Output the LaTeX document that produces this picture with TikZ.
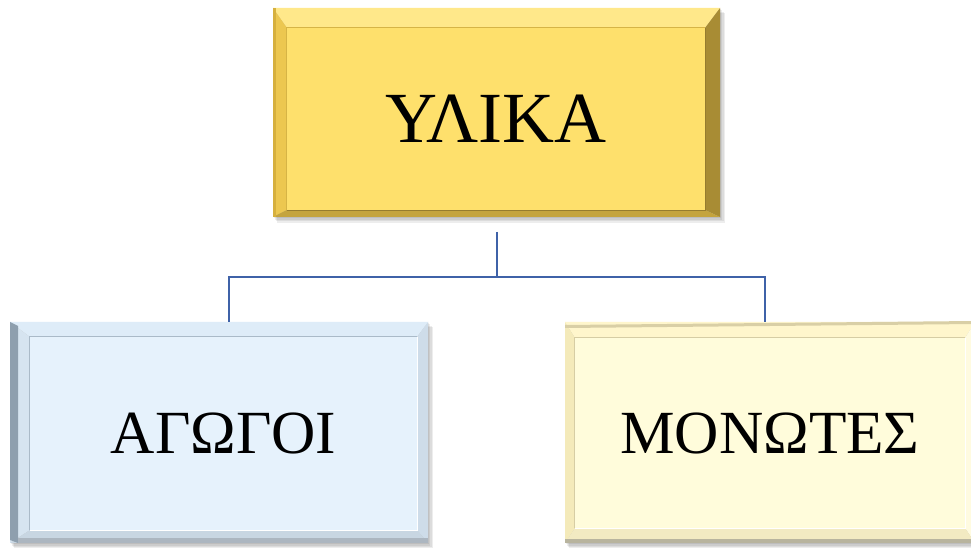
\documentclass[tikz,border=0pt]{standalone}
\usepackage{fontspec}
\setmainfont{Liberation Serif}
\usetikzlibrary{calc}
\definecolor{conncol}{HTML}{3F62A8}
% top box colours
\definecolor{ytop}{RGB}{255,232,138}
\definecolor{yleft}{RGB}{236,199,80}
\definecolor{yright}{RGB}{168,140,52}
\definecolor{ybot}{RGB}{196,164,62}
\definecolor{yedge}{RGB}{214,176,62}
\definecolor{ypanel}{RGB}{254,224,108}
\definecolor{ygroove}{RGB}{214,180,70}
\definecolor{ygroovedk}{RGB}{150,124,46}
% left box colours
\definecolor{btop}{RGB}{222,236,248}
\definecolor{bleft}{RGB}{214,228,240}
\definecolor{bright}{RGB}{206,220,233}
\definecolor{bbot}{RGB}{200,214,226}
\definecolor{bslab}{RGB}{142,159,174}
\definecolor{bbotslab}{RGB}{172,182,192}
\definecolor{bpanel}{RGB}{230,242,252}
\definecolor{bgroove}{RGB}{170,186,200}
% right box colours
\definecolor{ctop}{RGB}{255,246,204}
\definecolor{cleft}{RGB}{244,234,186}
\definecolor{cright}{RGB}{255,251,224}
\definecolor{cbot}{RGB}{242,234,194}
\definecolor{cslab}{RGB}{217,207,166}
\definecolor{cbotslab}{RGB}{184,180,158}
\definecolor{cpanel}{RGB}{255,252,219}
\definecolor{cgroove}{RGB}{214,205,164}
\tikzset{
  conn/.style={draw=conncol, line width=1.6pt},
  panel/.style={rectangle, inner sep=0pt, text=black},
  shadowlayer/.style={fill=black, opacity=0.07},
}
\newcommand\bevelbox[8]{%
  \coordinate (bA) at (#1); \coordinate (bB) at (#2);
  \coordinate (bC) at (#3); \coordinate (bD) at (#4);
  \foreach \s in {2,4,6,8}{\fill[shadowlayer] ($(bA)+(\s*0.5,\s*0.6)$) rectangle ($(bB)+(\s*0.6,\s*0.7)$);}
  \fill[#5] (bA) -- (bA -| bB) -- (bC -| bD) -- (bC) -- cycle;
  \fill[#6] (bA) -- (bC) -- (bC |- bD) -- (bA |- bB) -- cycle;
  \fill[#7] (bA -| bB) -- (bB) -- (bD) -- (bC -| bD) -- cycle;
  \fill[#8] (bA |- bB) -- (bB) -- (bD) -- (bC |- bD) -- cycle;
}
\begin{document}
\begin{tikzpicture}[x=0.75pt,y=-0.75pt]
\fill[white] (0,0) rectangle (971,548);
\useasboundingbox (0,0) rectangle (971,548);

% ---------- top box ----------
\bevelbox{273,8}{720,217}{287,28}{705,210}{ytop}{yleft}{yright}{ybot}
\fill[yedge] (273,8) rectangle (276,217);
\node[panel, fill=ypanel, minimum width=313.5pt, minimum height=136.5pt,
      font=\fontsize{54}{62}\selectfont] (top) at (496,119) {ΥΛΙΚΑ};
\draw[line width=0.8pt, ygroove] (top.south west) -- (top.north west) -- (top.north east);
\draw[line width=0.8pt, ygroovedk] (top.north east) -- (top.south east) -- (top.south west);

% ---------- left box ----------
\bevelbox{10,322}{428,543}{30,337}{417,530}{btop}{bleft}{bright}{bbot}
\fill[bslab] (10,322) -- (18,326) -- (18,543) -- (10,540) -- cycle;
\fill[bbotslab] (18,538) rectangle (428,543);
\node[panel, fill=bpanel, minimum width=290.25pt, minimum height=144.75pt,
      font=\fontsize{46}{54}\selectfont] (left) at (223.5,433.5) {ΑΓΩΓΟΙ};
\draw[line width=0.9pt, bgroove] (left.south west) -- (left.north west) -- (left.north east);
\draw[line width=0.9pt, white] (left.north east) -- (left.south east) -- (left.south west);

% ---------- right box ----------
\bevelbox{565,322}{975,543}{575,338}{965,528}{ctop}{cleft}{cright}{cbot}
\fill[cslab] (565,325) -- (975,321) -- (975,324) -- (565,328) -- cycle;
\fill[cbotslab] (565,539) rectangle (975,543);
\node[panel, fill=cpanel, minimum width=292.5pt, minimum height=142.5pt,
      font=\fontsize{46}{54}\selectfont] (right) at (770,433) {ΜΟΝΩΤΕΣ};
\draw[line width=0.9pt, cgroove] (right.south west) -- (right.north west) -- (right.north east);
\draw[line width=0.9pt, white] (right.north east) -- (right.south east) -- (right.south west);

% ---------- connectors ----------
\coordinate (t) at (497,232);
\coordinate (lc) at (229,322);
\coordinate (rc) at (765,322);
\coordinate (hy) at (0,277);
\draw[conn] (t) -- (t |- hy) -| (lc);
\draw[conn] (t |- hy) -| (rc);
\end{tikzpicture}
\end{document}
